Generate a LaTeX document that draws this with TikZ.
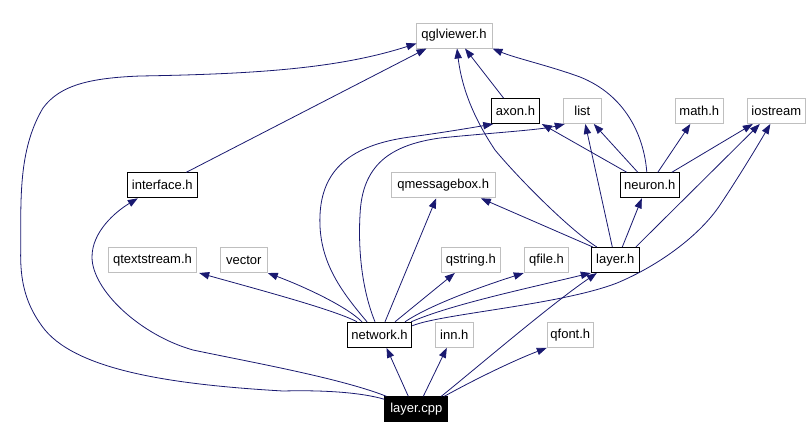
\documentclass[tikz,border=0pt]{standalone}
\usepackage{fontspec}
\setmainfont{Liberation Sans}
\usetikzlibrary{arrows.meta,calc}
\definecolor{edgec}{HTML}{191970}
\definecolor{grayb}{HTML}{BFBFBF}
\begin{document}
\begin{tikzpicture}[x=0.75pt,y=-0.75pt,
  box/.style={draw, line width=0.75pt, inner sep=0pt, minimum height=18.75pt,
              font=\fontsize{9.75}{11}\selectfont},
  ext/.style={box, draw=grayb},
  own/.style={box, draw=black},
  cur/.style={box, draw=black, fill=black, text=white},
  wd/.style={minimum width=#1*0.75pt},
  dep/.style={draw=edgec, line width=0.6pt, -{Triangle[length=7.5pt,width=5.5pt]}}]
\useasboundingbox (0,0) rectangle (812,439);

% nodes
\node[ext,wd=76]    (qgl)    at (454,35.5)    {qglviewer.h};
\node[own,wd=47.6]  (axon)   at (515.5,111)   {axon.h};
\node[ext,wd=38]    (list)   at (582.3,111)   {list};
\node[ext,wd=48]    (math)   at (699.3,111)   {math.h};
\node[ext,wd=58]    (ios)    at (776.3,111)   {iostream};
\node[own,wd=70]    (iface)  at (162.3,185.3) {interface.h};
\node[ext,wd=104.3] (qmsg)   at (443.2,185.3) {qmessagebox.h};
\node[own,wd=59]    (neuron) at (649.8,185.3) {neuron.h};
\node[ext,wd=88.4]  (qtext)  at (152.5,260)   {qtextstream.h};
\node[ext,wd=47]    (vec)    at (243.8,260)   {vector};
\node[ext,wd=59]    (qstr)   at (470.8,260)   {qstring.h};
\node[ext,wd=44.4]  (qfile)  at (546.5,260)   {qfile.h};
\node[own,wd=48]    (layerh) at (615.3,260)   {layer.h};
\node[own,wd=64.4]  (net)    at (379.5,334.8) {network.h};
\node[ext,wd=38]    (inn)    at (454.3,334.8) {inn.h};
\node[ext,wd=46]    (qfont)  at (570.3,334.8) {qfont.h};
\node[cur,wd=62.7]  (cpp)    at (416.3,409.3) {layer.cpp};

% interface.h
\draw[dep] ($(iface.north)+(24,0)$) -- ($(qgl.south west)+(11,0)$);
% axon.h
\draw[dep] ($(axon.north)+(-12,0)$) -- ($(qgl.south)+(11,0)$);
% neuron.h
\draw[dep] ($(neuron.north)+(-3,0)$) .. controls (644,135) and (625,95) .. (580,77)
   .. controls (550,66) and (515,58) .. (qgl.south east);
\draw[dep] ($(neuron.north)+(-23,0)$) -- ($(axon.south east)+(2,0)$);
\draw[dep] ($(neuron.north)+(-12,0)$) -- ($(list.south east)+(-8,0)$);
\draw[dep] ($(neuron.north)+(8,0)$) -- ($(math.south)+(-9,0)$);
\draw[dep] ($(neuron.north)+(22,0)$) -- ($(ios.south west)+(6,0)$);
% layer.h
\draw[dep] ($(layerh.north west)+(2,0)$) -- ($(qmsg.south east)+(-15,0)$);
\draw[dep] ($(layerh.north west)+(6,0)$) .. controls (570,230) and (520,180) .. (495,150)
   .. controls (475,120) and (462,90) .. ($(qgl.south)+(3,0)$);
\draw[dep] ($(layerh.north)+(-3,0)$) -- ($(list.south)+(3,0)$);
\draw[dep] ($(layerh.north)+(7,0)$) -- ($(neuron.south)+(-8,0)$);
\draw[dep] ($(layerh.north east)+(-4,0)$) -- ($(ios.south west)+(13,0)$);
% network.h
\draw[dep] ($(net.north)+(-22.5,0)$) .. controls (335,310) and (260,290) .. ($(qtext.south east)+(2,0)$);
\draw[dep] ($(net.north)+(-17.5,0)$) .. controls (345,305) and (300,285) .. (vec.south east);
\draw[dep] ($(net.north)+(-12.5,0)$) .. controls (340,290) and (318,260) .. (320,215)
   .. controls (322,170) and (350,145) .. (410,137)
   .. controls (440,133) and (470,128) .. ($(axon.south west)+(2,0)$);
\draw[dep] ($(net.north)+(-4.5,0)$) .. controls (362,290) and (358,250) .. (360,215)
   .. controls (362,165) and (390,145) .. (440,138)
   .. controls (490,133) and (540,130) .. ($(list.south west)+(2,0)$);
\draw[dep] ($(net.north)+(5.5,0)$) -- ($(qmsg.south)+(-7,0)$);
\draw[dep] ($(net.north)+(15.5,0)$) -- ($(qstr.south west)+(14,0)$);
\draw[dep] ($(net.north)+(25.5,0)$) .. controls (430,305) and (480,287) .. (qfile.south west);
\draw[dep] ($(net.north east)+(-1,0)$) .. controls (450,305) and (520,290) .. (layerh.south west);
\draw[dep] ($(net.north east)+(0,4)$) .. controls (440,314) and (560,305) .. (617,283)
   .. controls (660,265) and (700,235) .. (720,205)
   .. controls (740,175) and (758,145) .. ($(ios.south)+(-6,0)$);
% layer.cpp
\draw[dep] ($(cpp.north)+(-8,0)$) -- ($(net.south)+(7,0)$);
\draw[dep] ($(cpp.north)+(7,0)$) -- ($(inn.south west)+(12,0)$);
\draw[dep] ($(cpp.north)+(25,0)$) .. controls (480,365) and (550,305) .. ($(layerh.south west)+(6,0)$);
\draw[dep] ($(cpp.north)+(28,0)$) .. controls (470,382) and (510,362) .. (qfont.south west);
\draw[dep] ($(cpp.north west)+(2,0)$) .. controls (340,378) and (250,362) .. (193,350)
   .. controls (140,335) and (92,290) .. (92,257)
   .. controls (92,232) and (115,212) .. ($(iface.south west)+(11,0)$);
\draw[dep] ($(cpp.north west)+(0,3)$) .. controls (360,392) and (320,390) .. (283,391)
   .. controls (180,385) and (80,372) .. (45,330)
   .. controls (25,305) and (20,280) .. (20.7,250)
   .. controls (21,200) and (18,150) .. (43,108)
   .. controls (60,85) and (90,78) .. (140,76)
   .. controls (260,74) and (340,68) .. ($(qgl.south west)+(1,-5)$);
\end{tikzpicture}
\end{document}
